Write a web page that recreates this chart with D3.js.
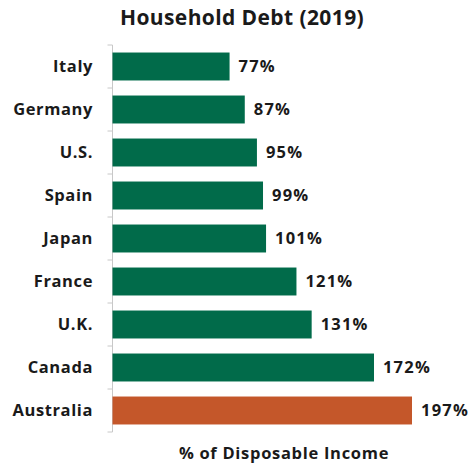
<!DOCTYPE html>
<html><head><meta charset="utf-8">
<script src="https://cdn.jsdelivr.net/npm/d3@7/dist/d3.min.js"></script>
<style>body{margin:0;background:#fff;} text{font-family:"Open Sans",sans-serif;font-weight:bold;fill:#1a1a1a;}</style>
</head><body>
<svg id="c" width="469" height="464"></svg>
<script>
const countries = ["Italy","Germany","U.S.","Spain","Japan","France","U.K.","Canada","Australia"];
const debt = [77,87,95,99,101,121,131,172,197];
const highlight = ["Australia"];
const title = "Household Debt (2019)";
const xTitle = "% of Disposable Income";

const svg = d3.select("#c");
const x0 = 112.5, yTop = 45, yBot = 432;
const x = d3.scaleLinear().domain([0,197]).range([x0,412]);
const y = d3.scaleBand().domain(countries).range([yTop,yBot]).paddingInner(0.35).paddingOuter(0.175);

svg.append("line").attr("x1",x0).attr("x2",x0).attr("y1",yTop).attr("y2",yBot).attr("stroke","#c8c8c8").attr("stroke-width",1);
for(let i=0;i<=countries.length;i++){
  const yy = yTop + i*(yBot-yTop)/countries.length;
  svg.append("line").attr("x1",x0-5).attr("x2",x0).attr("y1",yy).attr("y2",yy).attr("stroke","#c8c8c8");
}
const data = countries.map((c,i)=>({c,v:debt[i]}));
svg.selectAll("rect.bar").data(data).join("rect").attr("class","bar")
  .attr("x",x(0)).attr("y",d=>y(d.c)).attr("width",d=>x(d.v)-x(0)).attr("height",y.bandwidth())
  .attr("fill",d=>highlight.includes(d.c)?"#c4572a":"#016b4a");
svg.selectAll("text.val").data(data).join("text").attr("class","val")
  .attr("x",d=>x(d.v)+9).attr("y",d=>y(d.c)+y.bandwidth()/2).attr("dy","0.36em")
  .attr("font-size",16.5).attr("letter-spacing",1.2).text(d=>d.v+"%");
svg.selectAll("text.cat").data(data).join("text").attr("class","cat")
  .attr("x",93).attr("y",d=>y(d.c)+y.bandwidth()/2).attr("dy","0.36em").attr("text-anchor","end")
  .attr("font-size",16.5).attr("letter-spacing",0.6).text(d=>d.c);
svg.append("text").attr("x",242).attr("y",24.5).attr("text-anchor","middle").attr("font-size",21).attr("letter-spacing",0.4).text(title);
svg.append("text").attr("x",284).attr("y",458.5).attr("text-anchor","middle").attr("font-size",16.5).attr("letter-spacing",0.7).text(xTitle);
</script>
</body></html>
